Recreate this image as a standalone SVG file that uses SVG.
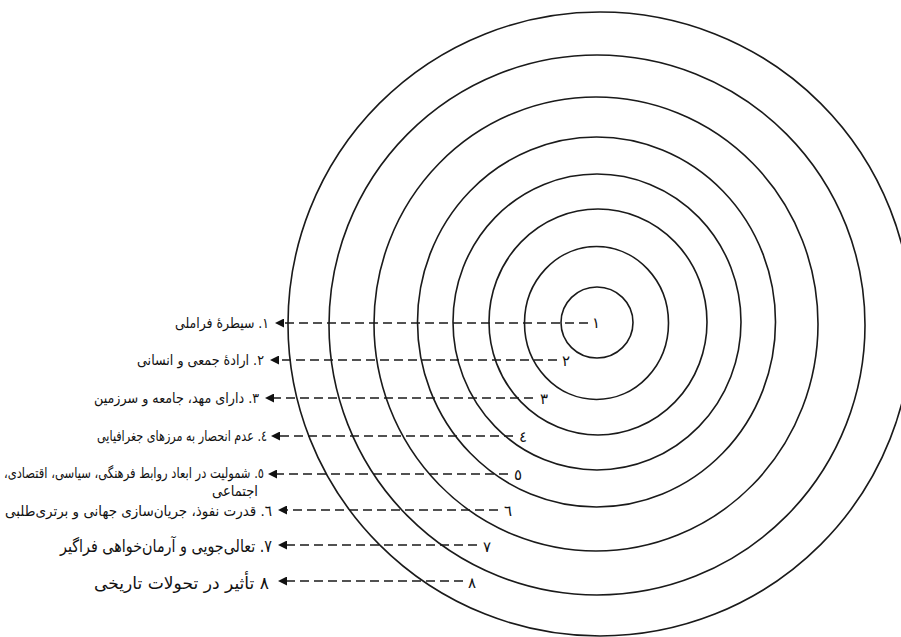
<svg xmlns="http://www.w3.org/2000/svg" width="901" height="637" viewBox="0 0 901 637">
  <style>
    .ring { fill: none; stroke: #1a1a1a; stroke-width: 1.6; }
    .conn { stroke: #1a1a1a; stroke-width: 1.7; stroke-dasharray: 9 5; fill: none; }
    .lbl { font-family: "DejaVu Sans", "Noto Sans", sans-serif; font-size: 14.5px; fill: #111; direction: rtl; unicode-bidi: embed; text-anchor: start; }
    .big { font-size: 17px; }
    .num { font-family: "DejaVu Sans", "Noto Sans", sans-serif; font-size: 15px; fill: #111; text-anchor: middle; }
  </style>
  <defs>
    <marker id="arr" viewBox="0 0 10 10" refX="0" refY="5" markerWidth="9" markerHeight="9" markerUnits="userSpaceOnUse" orient="auto">
      <path d="M0,0 L10,5 L0,10 z" fill="#111"/>
    </marker>
  </defs>
  <rect width="901" height="637" fill="#ffffff"/>

  <g id="rings">
    <g id="ring8"><ellipse class="ring" cx="600" cy="324" rx="312" ry="312"/></g>
    <g id="ring7"><ellipse class="ring" cx="597" cy="325" rx="268" ry="270"/></g>
    <g id="ring6"><ellipse class="ring" cx="596" cy="324" rx="222" ry="227"/></g>
    <g id="ring5"><ellipse class="ring" cx="596.5" cy="322" rx="179" ry="185"/></g>
    <g id="ring4"><ellipse class="ring" cx="597" cy="322" rx="144" ry="148"/></g>
    <g id="ring3"><ellipse class="ring" cx="598" cy="322" rx="109" ry="113"/></g>
    <g id="ring2"><ellipse class="ring" cx="596.5" cy="323" rx="72" ry="76.5"/></g>
    <g id="ring1"><ellipse class="ring" cx="597" cy="322.5" rx="36" ry="35.5"/></g>
  </g>

  <g id="connectors">
    <line class="conn" x1="588" y1="323" x2="284" y2="323" marker-end="url(#arr)"/>
    <line class="conn" x1="557" y1="360" x2="279" y2="360" marker-end="url(#arr)"/>
    <line class="conn" x1="533" y1="398" x2="274" y2="398" marker-end="url(#arr)"/>
    <line class="conn" x1="513" y1="436" x2="280" y2="436" marker-end="url(#arr)"/>
    <line class="conn" x1="508" y1="474" x2="277" y2="474" marker-end="url(#arr)"/>
    <line class="conn" x1="498" y1="510" x2="287" y2="510" marker-end="url(#arr)"/>
    <line class="conn" x1="477" y1="545" x2="287" y2="545" marker-end="url(#arr)"/>
    <line class="conn" x1="463" y1="581" x2="287" y2="581" marker-end="url(#arr)"/>
  </g>

  <g id="ring-numbers">
    <text class="num" x="596" y="328">١</text>
    <text class="num" x="566" y="366">٢</text>
    <text class="num" x="544" y="404">٣</text>
    <text class="num" x="523" y="442">٤</text>
    <text class="num" x="518" y="480">٥</text>
    <text class="num" x="508" y="516">٦</text>
    <text class="num" x="487" y="552">٧</text>
    <text class="num" x="472" y="588">٨</text>
  </g>

  <g id="label1"><text class="lbl" x="269" y="328" textLength="94" lengthAdjust="spacingAndGlyphs">١. سیطرۀ فراملی</text></g>
  <g id="label2"><text class="lbl" x="264" y="365" textLength="127" lengthAdjust="spacingAndGlyphs">٢. ارادۀ جمعی و انسانی</text></g>
  <g id="label3"><text class="lbl" x="259" y="403" textLength="165" lengthAdjust="spacingAndGlyphs">٣. دارای مهد، جامعه و سرزمین</text></g>
  <g id="label4"><text class="lbl" x="267" y="441" textLength="170" lengthAdjust="spacingAndGlyphs">٤. عدم انحصار به مرزهای جغرافیایی</text></g>
  <g id="label5">
    <text class="lbl" x="264" y="478" textLength="260" lengthAdjust="spacingAndGlyphs">٥. شمولیت در ابعاد روابط فرهنگی، سیاسی، اقتصادی،</text>
    <text class="lbl" x="258" y="496" textLength="46" lengthAdjust="spacingAndGlyphs">اجتماعی</text>
  </g>
  <g id="label6"><text class="lbl" x="272" y="516" textLength="267" lengthAdjust="spacingAndGlyphs">٦. قدرت نفوذ، جریان‌سازی جهانی و برتری‌طلبی</text></g>
  <g id="label7"><text class="lbl big" x="272" y="552" textLength="212" lengthAdjust="spacingAndGlyphs">٧. تعالی‌جویی و آرمان‌خواهی فراگیر</text></g>
  <g id="label8"><text class="lbl big" x="269" y="589" textLength="175" lengthAdjust="spacingAndGlyphs">٨ تأثیر در تحولات تاریخی</text></g>
</svg>
